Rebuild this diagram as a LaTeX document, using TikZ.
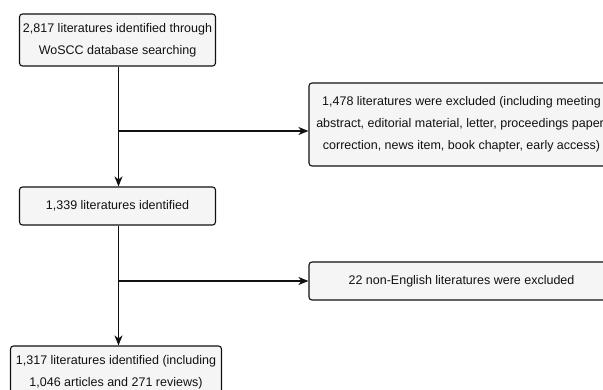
\documentclass[tikz,border=0pt]{standalone}
\usepackage{fontspec}
\setmainfont{Liberation Sans}
\usetikzlibrary{arrows.meta}
\definecolor{boxfill}{HTML}{F5F5F5}
\definecolor{ink}{HTML}{111111}
\tikzset{
  flowbox/.style={draw=ink, fill=boxfill, line width=1.1pt, rounded corners=3pt,
    align=center, inner sep=0pt, text=ink,
    font=\fontsize{12.5pt}{22pt}\selectfont},
  flowarrow/.style={draw=ink, line width=1.3pt, -{Stealth[length=10pt,width=8pt,inset=3pt]}}
}
\begin{document}
\begin{tikzpicture}[x=1pt,y=1pt]
\useasboundingbox (0,0) rectangle (603,-390);
\clip (0,0) rectangle (603,-390);
\fill[white] (0,0) rectangle (603,-390);
\node[flowbox, minimum width=196pt, minimum height=52pt] (b1) at (117.5,-40)
  {2,817 literatures identified through\\WoSCC database searching};
\node[flowbox, minimum width=305pt, minimum height=83pt] (b2) at (461.5,-124.5)
  {1,478 literatures were excluded (including meeting\\abstract, editorial material, letter, proceedings paper,\\correction, news item, book chapter, early access)};
\node[flowbox, minimum width=196pt, minimum height=38pt] (b3) at (117.5,-206)
  {1,339 literatures identified};
\node[flowbox, minimum width=305pt, minimum height=38pt] (b4) at (461.5,-281)
  {22 non-English literatures were excluded};
\node[flowbox, minimum width=211pt, minimum height=52pt] (b5) at (116,-372)
  {1,317 literatures identified (including\\1,046 articles and 271 reviews)};
\coordinate (j1) at (118.5,-131);
\coordinate (j2) at (118.5,-281);
\draw[flowarrow] (b1.south -| j1) -- (b3.north -| j1);
\draw[flowarrow] (j1) -- (j1 -| b2.west);
\draw[flowarrow] (b3.south -| j2) -- (b5.north -| j2);
\draw[flowarrow] (j2) -- (j2 -| b4.west);
\end{tikzpicture}
\end{document}
